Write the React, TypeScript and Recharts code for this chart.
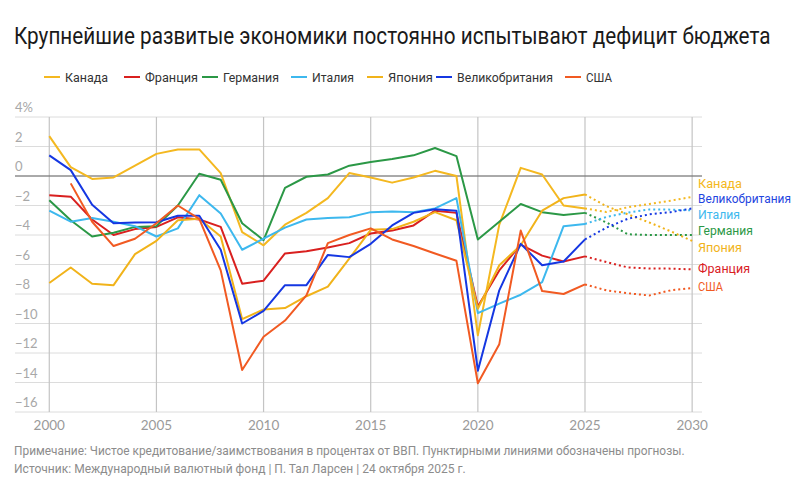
import React, { useLayoutEffect, useRef, useState } from "react";
import { LineChart, Line, XAxis, YAxis, CartesianGrid, ReferenceLine } from "recharts";

const years = [2000, 2001, 2002, 2003, 2004, 2005, 2006, 2007, 2008, 2009, 2010, 2011, 2012, 2013, 2014, 2015, 2016, 2017, 2018, 2019, 2020, 2021, 2022, 2023, 2024, 2025, 2026, 2027, 2028, 2029, 2030];

// actual values 2000-2025
const canada = [2.7, 0.6, -0.2, -0.1, 0.7, 1.5, 1.8, 1.8, 0.2, -3.8, -4.7, -3.3, -2.5, -1.5, 0.2, -0.1, -0.45, -0.1, 0.35, 0.0, -10.8, -3.3, 0.55, 0.1, -2.0, -2.2];
const france = [-1.3, -1.4, -2.95, -4.0, -3.6, -3.45, -2.8, -2.95, -3.45, -7.3, -7.1, -5.25, -5.1, -4.85, -4.55, -3.9, -3.7, -3.35, -2.35, -2.5, -8.85, -6.4, -4.65, -5.4, -5.8, -5.45];
const germany = [-1.65, -3.0, -4.1, -3.85, -3.45, -3.4, -2.0, 0.15, -0.25, -3.2, -4.35, -0.8, -0.05, 0.1, 0.7, 0.95, 1.15, 1.4, 1.9, 1.35, -4.3, -3.1, -1.9, -2.45, -2.65, -2.5];
const italy = [-2.35, -3.1, -2.85, -3.1, -3.4, -4.1, -3.55, -1.3, -2.55, -5.0, -4.25, -3.5, -2.95, -2.85, -2.8, -2.45, -2.4, -2.45, -2.2, -1.5, -9.3, -8.65, -8.05, -7.2, -3.4, -3.25];
const japan = [-7.25, -6.2, -7.3, -7.4, -5.3, -4.4, -3.0, -2.9, -4.1, -9.7, -9.05, -8.95, -8.15, -7.5, -5.6, -3.65, -3.6, -3.1, -2.45, -3.0, -9.0, -6.05, -4.7, -2.35, -1.5, -1.25];
const uk = [1.4, 0.4, -1.95, -3.2, -3.15, -3.13, -2.7, -2.7, -5.0, -10.0, -9.15, -7.4, -7.4, -5.35, -5.5, -4.6, -3.35, -2.5, -2.25, -2.35, -13.2, -7.75, -4.6, -6.05, -5.8, -4.3];
const usa = [null, -0.5, -3.1, -4.75, -4.25, -3.2, -2.0, -2.9, -6.4, -13.15, -10.9, -9.8, -8.1, -4.55, -4.0, -3.55, -4.3, -4.75, -5.25, -5.75, -14.05, -11.4, -3.7, -7.8, -8.0, -7.35];

// forecasts 2025-2030
const canadaF = [-2.2, -2.44, -2.12, -1.9, -1.67, -1.42];
const franceF = [-5.45, -5.83, -6.2, -6.27, -6.28, -6.33];
const germanyF = [-2.5, -3.15, -3.95, -4.0, -4.0, -4.0];
const italyF = [-3.25, -2.78, -2.48, -2.27, -2.28, -2.33];
const japanF = [-1.25, -2.05, -2.6, -3.15, -3.75, -4.4];
const ukF = [-4.3, -3.5, -2.9, -2.6, -2.45, -2.2];
const usaF = [-7.35, -7.75, -7.95, -8.1, -7.75, -7.6];

const xTicks = [2000, 2005, 2010, 2015, 2020, 2025, 2030];
const yTicks = [-16, -14, -12, -10, -8, -6, -4, -2, 0, 2, 4];

const FORECAST_START = 25;

const series = [
  { key: "canada", name: "Канада", color: "#f4b820", actual: canada, forecast: canadaF },
  { key: "france", name: "Франция", color: "#d9201f", actual: france, forecast: franceF },
  { key: "germany", name: "Германия", color: "#2b9846", actual: germany, forecast: germanyF },
  { key: "italy", name: "Италия", color: "#3db8ee", actual: italy, forecast: italyF },
  { key: "japan", name: "Япония", color: "#f1b31a", actual: japan, forecast: japanF },
  { key: "uk", name: "Великобритания", color: "#1537e2", actual: uk, forecast: ukF },
  { key: "usa", name: "США", color: "#f15a22", actual: usa, forecast: usaF },
];

const data = years.map((year, i) => {
  const row: any = { year };
  series.forEach((s) => {
    row[s.key] = i <= FORECAST_START ? s.actual[i] : null;
    row[s.key + "F"] = i >= FORECAST_START ? s.forecast[i - FORECAST_START] : null;
  });
  return row;
});

const legendItems = [
  { name: "Канада", color: "#f4b820", x: 44, w: 43 },
  { name: "Франция", color: "#d9201f", x: 124, w: 53 },
  { name: "Германия", color: "#2b9846", x: 202, w: 56 },
  { name: "Италия", color: "#3db8ee", x: 291, w: 42 },
  { name: "Япония", color: "#f1b31a", x: 367, w: 45 },
  { name: "Великобритания", color: "#1537e2", x: 436, w: 96 },
  { name: "США", color: "#f15a22", x: 565, w: 26 },
];

const endLabels = [
  { name: "Канада", color: "#f4b820", y: 188, w: 44 },
  { name: "Великобритания", color: "#1f45e0", y: 203, w: 93 },
  { name: "Италия", color: "#3db8ee", y: 219, w: 42 },
  { name: "Германия", color: "#2b9846", y: 235, w: 55 },
  { name: "Япония", color: "#f1b31a", y: 252, w: 44 },
  { name: "Франция", color: "#d9201f", y: 273, w: 52 },
  { name: "США", color: "#f15a22", y: 291, w: 25 },
];

// Text horizontally scaled to a target width (mimics the condensed face of the original)
function FitText({ x, y, width, fontSize, fill, children }: any) {
  const ref = useRef<SVGTextElement>(null);
  const [sx, setSx] = useState(1);
  useLayoutEffect(() => {
    if (ref.current) {
      const natural = ref.current.getComputedTextLength();
      if (natural > 0) setSx(width / natural);
    }
  }, [width, children]);
  return (
    <text
      ref={ref}
      x={0}
      y={0}
      transform={`translate(${x},${y}) scale(${sx},1)`}
      fontSize={fontSize}
      fill={fill}
      fontFamily="Roboto, sans-serif"
    >
      {children}
    </text>
  );
}

const XTick = (props: any) => {
  const { x, payload } = props;
  return (
    <text x={x} y={430} textAnchor="middle" fill="#9a9a9a" fontSize={13.5} fontFamily="Lato, sans-serif">
      {payload.value}
    </text>
  );
};

const YTick = (props: any) => {
  const { y, payload } = props;
  const v = payload.value;
  const label = v === 4 ? "4%" : v < 0 ? "\u2212" + Math.abs(v) : String(v);
  return (
    <text x={15} y={y - 5} textAnchor="start" fill="#a8a8a8" fontSize={13} fontFamily="Lato, sans-serif">
      {label}
    </text>
  );
};

export default function App() {
  return (
    <div style={{ position: "absolute", left: 0, top: 0, width: 800, height: 502, background: "#fff" }}>
      <LineChart
        width={800}
        height={502}
        data={data}
        margin={{ top: 117, right: 98, bottom: 70, left: 14 }}
      >
        <CartesianGrid vertical={false} stroke="#dcdcdc" strokeWidth={1} />
        {xTicks.map((t) => (
          <ReferenceLine key={t} x={t} stroke="#c4c4c4" strokeWidth={1.2} />
        ))}
        <ReferenceLine y={0} stroke="#666" strokeWidth={1.2} />
        <XAxis
          dataKey="year"
          type="number"
          domain={[1998.4, 2030.46]}
          ticks={xTicks}
          allowDataOverflow
          axisLine={false}
          tickLine={false}
          tick={<XTick />}
          height={20}
        />
        <YAxis
          type="number"
          domain={[-16, 4]}
          ticks={yTicks}
          axisLine={false}
          tickLine={false}
          tick={<YTick />}
          width={1}
        />
        {series.map((s) => (
          <Line
            key={s.key}
            dataKey={s.key}
            stroke={s.color}
            strokeWidth={2}
            dot={false}
            activeDot={false}
            isAnimationActive={false}
            strokeLinejoin="round"
          />
        ))}
        {series.map((s) => (
          <Line
            key={s.key + "F"}
            dataKey={s.key + "F"}
            stroke={s.color}
            strokeWidth={2}
            strokeDasharray="2 3"
            dot={false}
            activeDot={false}
            isAnimationActive={false}
          />
        ))}
      </LineChart>
      <svg width={800} height={502} style={{ position: "absolute", left: 0, top: 0, pointerEvents: "none" }}>
        <FitText x={14} y={44} width={757} fontSize={23} fill="#1a1a1a">
          Крупнейшие развитые экономики постоянно испытывают дефицит бюджета
        </FitText>
        {legendItems.map((it) => (
          <g key={it.name}>
            <line x1={it.x} x2={it.x + 16} y1={77} y2={77} stroke={it.color} strokeWidth={2} />
            <FitText x={it.x + 21} y={82} width={it.w} fontSize={13.5} fill="#333">
              {it.name}
            </FitText>
          </g>
        ))}
        {endLabels.map((l) => (
          <FitText key={l.name} x={698} y={l.y} width={l.w} fontSize={13.5} fill={l.color}>
            {l.name}
          </FitText>
        ))}
        <FitText x={14} y={455} width={671} fontSize={12.5} fill="#8c8c8c">
          Примечание: Чистое кредитование/заимствования в процентах от ВВП. Пунктирными линиями обозначены прогнозы.
        </FitText>
        <FitText x={14} y={473} width={452} fontSize={12.5} fill="#8c8c8c">
          Источник: Международный валютный фонд | П. Тал Ларсен | 24 октября 2025 г.
        </FitText>
      </svg>
    </div>
  );
}
